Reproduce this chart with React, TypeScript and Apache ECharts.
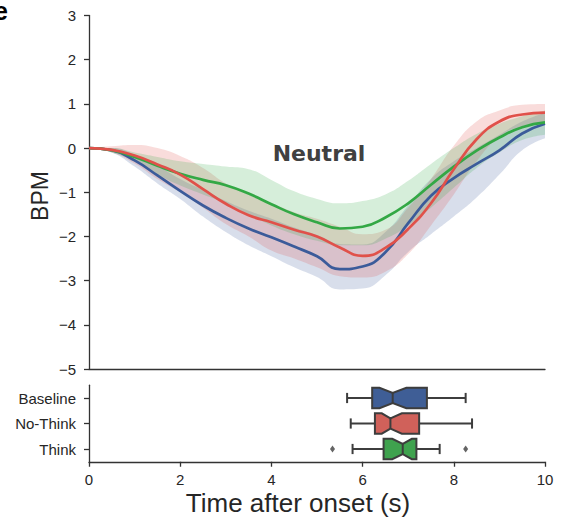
import React, { useEffect, useRef } from "react";
import * as echarts from "echarts";

// ---- data ----
const times = [0, 0.5, 1, 1.5, 2, 2.5, 3, 3.5, 4, 4.5, 5, 5.5, 6, 6.5, 7, 7.5, 8, 8.5, 9, 9.5, 10];

const baselineMean = [0, -0.05, -0.28, -0.62, -0.97, -1.3, -1.58, -1.82, -2.02, -2.23, -2.45, -2.74, -2.68, -2.36, -1.7, -1.08, -0.68, -0.36, -0.05, 0.33, 0.55];
const baselineUpper = [0, 0, -0.15, -0.4, -0.7, -0.95, -1.2, -1.42, -1.6, -1.8, -1.97, -2.17, -2.18, -1.9, -1.3, -0.7, -0.3, 0.0, 0.3, 0.6, 0.8];
const baselineLower = [0, -0.1, -0.42, -0.8, -1.15, -1.55, -1.9, -2.2, -2.45, -2.7, -2.92, -3.2, -3.18, -2.88, -2.35, -1.95, -1.55, -1.12, -0.6, -0.05, 0.22];

const noThinkMean = [0, -0.04, -0.17, -0.37, -0.6, -0.93, -1.26, -1.52, -1.68, -1.85, -2.0, -2.25, -2.44, -2.26, -1.83, -1.25, -0.48, 0.2, 0.6, 0.76, 0.8];
const noThinkUpper = [0, 0.04, 0.07, 0.0, -0.18, -0.45, -0.8, -1.05, -1.25, -1.45, -1.6, -1.78, -1.95, -1.85, -1.35, -0.7, 0.05, 0.6, 0.85, 0.98, 1.0];
const noThinkLower = [0, -0.1, -0.35, -0.7, -1.0, -1.35, -1.72, -2.0, -2.32, -2.5, -2.7, -2.9, -2.93, -2.8, -2.4, -1.75, -1.05, -0.3, 0.25, 0.5, 0.58];

const thinkMean = [0, -0.05, -0.2, -0.4, -0.58, -0.72, -0.84, -1.03, -1.27, -1.5, -1.68, -1.82, -1.78, -1.57, -1.25, -0.83, -0.42, -0.06, 0.24, 0.47, 0.58];
const thinkUpper = [0, 0, -0.1, -0.2, -0.3, -0.36, -0.42, -0.48, -0.72, -0.98, -1.15, -1.25, -1.2, -1.05, -0.74, -0.36, 0.0, 0.32, 0.55, 0.72, 0.85];
const thinkLower = [0, -0.1, -0.3, -0.6, -0.85, -1.05, -1.25, -1.5, -1.75, -1.95, -2.1, -2.2, -2.2, -2.05, -1.75, -1.35, -0.9, -0.45, -0.1, 0.18, 0.3];

const conditions = ["Baseline", "No-Think", "Think"];
// [whiskerLow, q1, notchLow, median, notchHigh, q3, whiskerHigh]
const baselineBox = [5.66, 6.21, 6.37, 6.66, 6.96, 7.41, 8.26];
const noThinkBox = [5.74, 6.27, 6.42, 6.61, 6.86, 7.24, 8.4];
const thinkBox = [5.78, 6.46, 6.65, 6.88, 7.08, 7.18, 7.69];
const thinkOutliers = [5.34, 8.26];

const yTicksTop = [-5, -4, -3, -2, -1, 0, 1, 2, 3];
const xTicks = [0, 2, 4, 6, 8, 10];

// ---- styles ----
const lineColors = ["#3b5b9a", "#e0514a", "#33a845"];
const boxColors = ["#3f5e96", "#d0615a", "#3fa24e"];
const ink = "#333333";
const font = "Liberation Sans, Arial, sans-serif";
const SMOOTH = 0.5;

const diffs = (up: number[], lo: number[]) => up.map((u, i) => +(u - lo[i]).toFixed(3));

function bandSeries(name: string, up: number[], lo: number[], color: string) {
  return [
    {
      type: "line",
      name: name + "-lo",
      xAxisIndex: 0,
      yAxisIndex: 0,
      stack: name,
      stackStrategy: "all",
      data: lo,
      smooth: SMOOTH,
      symbol: "none",
      lineStyle: { opacity: 0 },
      silent: true,
      z: 1,
    },
    {
      type: "line",
      name: name + "-band",
      xAxisIndex: 0,
      yAxisIndex: 0,
      stack: name,
      stackStrategy: "all",
      data: diffs(up, lo),
      smooth: SMOOTH,
      symbol: "none",
      lineStyle: { opacity: 0 },
      areaStyle: { color, opacity: 0.2 },
      silent: true,
      z: 1,
    },
  ];
}

function meanSeries(name: string, vals: number[], color: string, z: number) {
  return {
    type: "line",
    name,
    xAxisIndex: 0,
    yAxisIndex: 0,
    data: vals,
    smooth: SMOOTH,
    symbol: "none",
    lineStyle: { color, width: 2.7 },
    z,
  };
}

export default function App() {
  const ref = useRef<HTMLDivElement>(null);
  useEffect(() => {
    if (!ref.current) return;
    const chart = echarts.init(ref.current, undefined, { renderer: "svg" });
    const boxes = [baselineBox, noThinkBox, thinkBox];
    const option: any = {
      animation: false,
      backgroundColor: "#ffffff",
      grid: [
        { left: 89, top: 15.5, width: 456, height: 353.5 },
        { left: 89, top: 385.25, width: 456, height: 76.5 },
      ],
      xAxis: [
        {
          gridIndex: 0,
          type: "category",
          data: times.map(String),
          boundaryGap: false,
          axisLine: { show: true, onZero: false, lineStyle: { color: ink, width: 1.3 } },
          axisTick: { show: false },
          axisLabel: { show: false },
          splitLine: { show: false },
        },
        {
          gridIndex: 1,
          type: "value",
          min: 0,
          max: 10,
          interval: 2,
          axisLine: { show: true, onZero: false, lineStyle: { color: ink, width: 1.3 } },
          axisTick: { show: true, length: 5, lineStyle: { color: ink, width: 1.3 } },
          axisLabel: {
            color: "#262626",
            fontSize: 15,
            fontFamily: font,
            margin: 10,
            formatter: (v: number) => (xTicks.includes(v) ? String(v) : ""),
          },
          splitLine: { show: false },
        },
      ],
      yAxis: [
        {
          gridIndex: 0,
          type: "value",
          min: yTicksTop[0],
          max: yTicksTop[yTicksTop.length - 1],
          interval: 1,
          axisLine: { show: true, onZero: false, lineStyle: { color: ink, width: 1.3 } },
          axisTick: { show: true, length: 5, lineStyle: { color: ink, width: 1.3 } },
          axisLabel: {
            color: "#262626",
            fontSize: 15,
            fontFamily: font,
            margin: 13,
            formatter: (v: number) => (v < 0 ? "\u2212" + Math.abs(v) : String(v)),
          },
          splitLine: { show: false },
        },
        {
          gridIndex: 1,
          type: "category",
          data: conditions,
          inverse: true,
          axisLine: { show: true, onZero: false, lineStyle: { color: ink, width: 1.3 } },
          axisTick: { show: true, length: 5, alignWithLabel: true, lineStyle: { color: ink, width: 1.3 } },
          axisLabel: { color: "#262626", fontSize: 15, fontFamily: font, margin: 13 },
          splitLine: { show: false },
        },
      ],
      series: [
        ...bandSeries("b", baselineUpper, baselineLower, lineColors[0]),
        ...bandSeries("n", noThinkUpper, noThinkLower, lineColors[1]),
        ...bandSeries("t", thinkUpper, thinkLower, lineColors[2]),
        meanSeries("Baseline", baselineMean, lineColors[0], 3),
        meanSeries("Think", thinkMean, lineColors[2], 4),
        meanSeries("No-Think", noThinkMean, lineColors[1], 5),
        {
          type: "custom",
          xAxisIndex: 1,
          yAxisIndex: 1,
          data: boxes.map((b, i) => [i, ...b]),
          encode: { x: [1, 2, 3, 4, 5, 6, 7], y: 0 },
          renderItem: (params: any, api: any) => {
            const cat = api.value(0);
            const v = [1, 2, 3, 4, 5, 6, 7].map((k) => api.value(k));
            const [wl, q1, nl, med, nh, q3, wh] = v;
            const yc = api.coord([0, cat])[1];
            const band = api.size([0, 1])[1];
            const h = (band * 0.8) / 2;
            const X = (val: number) => api.coord([val, cat])[0];
            const edge = { stroke: "#3d3d3d", lineWidth: 2 };
            const capH = h * 0.5;
            return {
              type: "group",
              children: [
                { type: "line", shape: { x1: X(wl), y1: yc, x2: X(q1), y2: yc }, style: { ...edge, fill: null } },
                { type: "line", shape: { x1: X(q3), y1: yc, x2: X(wh), y2: yc }, style: { ...edge, fill: null } },
                { type: "line", shape: { x1: X(wl), y1: yc - capH, x2: X(wl), y2: yc + capH }, style: { ...edge, fill: null } },
                { type: "line", shape: { x1: X(wh), y1: yc - capH, x2: X(wh), y2: yc + capH }, style: { ...edge, fill: null } },
                {
                  type: "polygon",
                  shape: {
                    points: [
                      [X(q1), yc - h],
                      [X(nl), yc - h],
                      [X(med), yc - h / 2],
                      [X(nh), yc - h],
                      [X(q3), yc - h],
                      [X(q3), yc + h],
                      [X(nh), yc + h],
                      [X(med), yc + h / 2],
                      [X(nl), yc + h],
                      [X(q1), yc + h],
                    ],
                  },
                  style: { fill: boxColors[params.dataIndex], ...edge, lineJoin: "miter" },
                },
                { type: "line", shape: { x1: X(med), y1: yc - h / 2, x2: X(med), y2: yc + h / 2 }, style: { ...edge, fill: null } },
              ],
            };
          },
          z: 3,
        },
        {
          type: "scatter",
          xAxisIndex: 1,
          yAxisIndex: 1,
          data: thinkOutliers.map((x) => [x, "Think"]),
          symbol: "diamond",
          symbolSize: [5, 7],
          itemStyle: { color: "#3d3d3d" },
          z: 4,
        },
      ],
      graphic: [
        {
          type: "text",
          x: -6,
          y: 11,
          style: { text: "e", font: "bold 25px Liberation Sans, Arial, sans-serif", fill: "#000", verticalAlign: "middle" },
        },
        {
          type: "text",
          x: 319,
          y: 153,
          style: {
            text: "Neutral",
            font: "bold 22px DejaVu Sans, sans-serif",
            fill: "#404040",
            align: "center",
            verticalAlign: "middle",
          },
          z: 10,
        },
        {
          type: "text",
          x: 40,
          y: 196,
          rotation: Math.PI / 2,
          style: { text: "BPM", font: "23px Liberation Sans, Arial, sans-serif", fill: "#262626", align: "center", verticalAlign: "middle" },
        },
        {
          type: "text",
          x: 298,
          y: 503,
          style: {
            text: "Time after onset (s)",
            font: "26px Liberation Sans, Arial, sans-serif",
            fill: "#262626",
            align: "center",
            verticalAlign: "middle",
          },
        },
      ],
    };
    chart.setOption(option);
    return () => chart.dispose();
  }, []);
  return <div ref={ref} style={{ position: "absolute", left: 0, top: 0, width: 573, height: 521 }} />;
}
